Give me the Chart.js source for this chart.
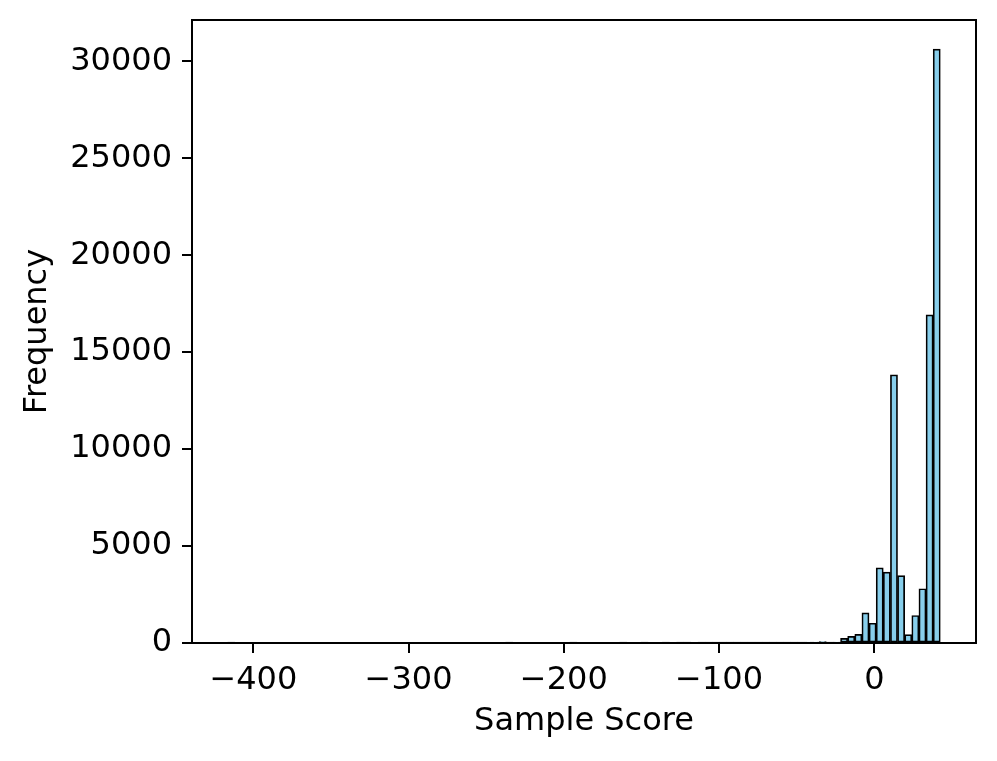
<!DOCTYPE html>
<html>
<head>
<meta charset="utf-8">
<script src="https://cdn.jsdelivr.net/npm/chart.js@4/dist/chart.umd.min.js"></script>
<style>
  body { margin: 0; background: #fff; }
  canvas { display: block; }
</style>
</head>
<body>
<canvas id="myChart" width="997" height="761"></canvas>
<script>
// histogram: 100 bins from -416.5 to 42.5
const binStart = -416.5;
const binWidth = 4.59;
const counts = [
  1, 0, 0, 0, 0, 0, 0, 0, 0, 0,
  0, 0, 0, 0, 0, 0, 0, 0, 0, 0,
  0, 0, 0, 0, 0, 0, 0, 0, 0, 0,
  0, 0, 0, 0, 0, 0, 0, 0, 0, 1,
  0, 0, 0, 0, 0, 0, 0, 0, 1, 0,
  0, 0, 0, 0, 0, 1, 0, 0, 1, 0,
  0, 1, 0, 1, 1, 0, 2, 1, 2, 3,
  3, 4, 5, 6, 8, 9, 12, 15, 18, 24,
  28, 35, 40, 70, 20, 45, 240, 340, 450, 1550,
  1020, 3880, 3660, 13830, 3480, 430, 1420, 2800, 16920, 30630
];
const xTicks = [-400, -300, -200, -100, 0];
const yTicks = [0, 5000, 10000, 15000, 20000, 25000, 30000];

const points = counts.map((c, i) => ({ x: binStart + binWidth * (i + 0.5), y: c }));

Chart.defaults.font.family = "'DejaVu Sans', sans-serif";
Chart.defaults.font.size = 32;
Chart.defaults.color = "#000";

// full box around the plot, drawn over the bars like matplotlib spines
const frame = {
  id: "frame",
  afterDatasetsDraw(chart) {
    const { ctx, chartArea: a } = chart;
    ctx.save();
    ctx.strokeStyle = "#000";
    ctx.lineWidth = 2;
    ctx.strokeRect(a.left, a.top, a.right - a.left, a.bottom - a.top);
    ctx.restore();
  }
};

const minus = v => (v < 0 ? "\u2212" + Math.abs(v) : String(v));

new Chart(document.getElementById("myChart"), {
  type: "bar",
  data: {
    datasets: [{
      data: points,
      backgroundColor: "#87CEEB",
      borderColor: "#000",
      borderWidth: 1.7,
      borderSkipped: false,
      barPercentage: 1,
      categoryPercentage: 1
    }]
  },
  plugins: [frame],
  options: {
    responsive: false,
    animation: false,
    layout: { padding: { left: 0, top: 20, right: 21, bottom: 0 } },
    plugins: { legend: { display: false }, tooltip: { enabled: false } },
    scales: {
      x: {
        type: "linear",
        offset: false,
        min: -439.5,
        max: 65.5,
        afterBuildTicks: s => { s.ticks = xTicks.map(v => ({ value: v })); },
        afterFit: s => { s.height = 118; s.paddingLeft = 0; s.paddingRight = 0; },
        ticks: { callback: minus, padding: 8, maxRotation: 0 },
        grid: { offset: false, drawOnChartArea: false, drawTicks: true, tickLength: 10, color: "#000", lineWidth: 2 },
        border: { display: false },
        title: { display: true, text: "Sample Score", padding: { top: 0, bottom: 20 } }
      },
      y: {
        min: 0,
        max: 32130,
        afterBuildTicks: s => { s.ticks = yTicks.map(v => ({ value: v })); },
        afterFit: s => { s.width = 192; s.paddingTop = 0; s.paddingBottom = 0; },
        ticks: { callback: v => String(v), padding: 10 },
        grid: { drawOnChartArea: false, drawTicks: true, tickLength: 10, color: "#000", lineWidth: 2 },
        border: { display: false },
        title: { display: true, text: "Frequency", padding: { top: 18, bottom: 0 } }
      }
    }
  }
});
</script>
</body>
</html>
